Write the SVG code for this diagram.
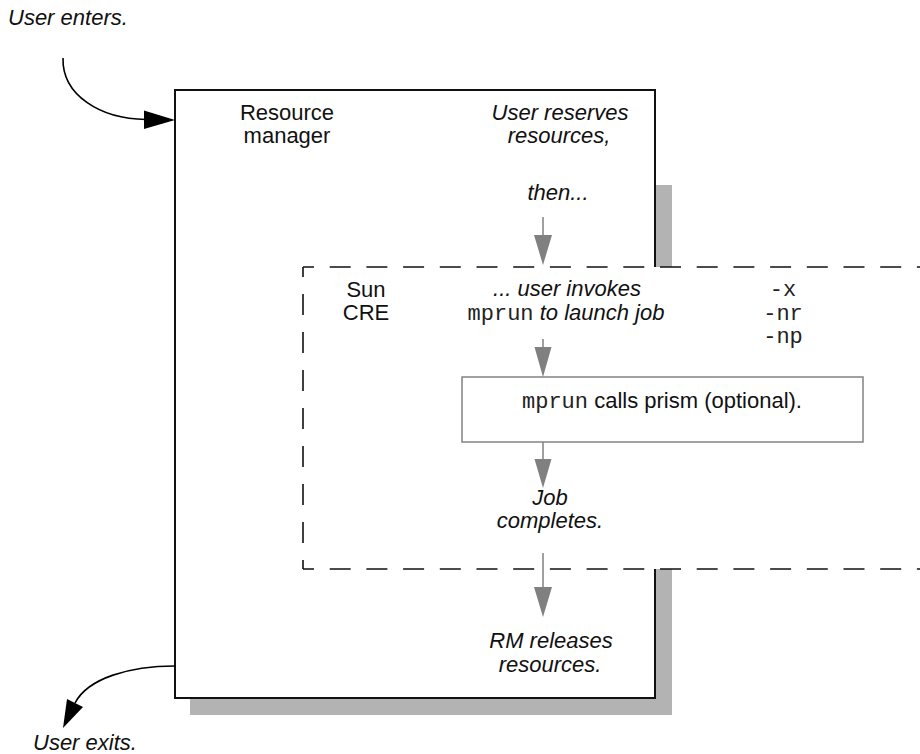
<svg xmlns="http://www.w3.org/2000/svg" width="920" height="754" viewBox="0 0 920 754">
<style>
  .t { font-family: "Liberation Sans", Arial, sans-serif; font-size: 22px; fill: #111; }
  .i { font-style: italic; }
  .m { font-family: "Liberation Mono", "Courier New", monospace; font-size: 22px; fill: #222; }
  .c { text-anchor: middle; }
  .dash { fill: none; stroke: #111; stroke-width: 1.6; }
  .gl { stroke: #808080; stroke-width: 1.5; fill: none; }
  .gh { fill: #808080; stroke: none; }
  .bl { stroke: #000; stroke-width: 1.6; fill: none; }
</style>
<rect width="920" height="754" fill="#fff"/>

<g id="resource-manager">
  <rect x="190" y="185" width="482" height="530" fill="#b3b3b3"/>
  <rect x="175" y="90" width="480" height="608" fill="#fff" stroke="#111" stroke-width="2"/>
  <text class="t c" x="287" y="120">Resource</text>
  <text class="t c" x="287" y="143">manager</text>
  <text class="t i c" x="560" y="120">User reserves</text>
  <text class="t i c" x="559" y="143">resources,</text>
  <text class="t i c" x="558" y="200">then...</text>
  <text class="t i c" x="551" y="648">RM releases</text>
  <text class="t i c" x="550" y="672">resources.</text>
</g>

<g id="sun-cre">
  <rect x="303" y="267" width="640" height="302" fill="#fff"/>
  <path class="dash" d="M303,267 H920" stroke-dasharray="21 15.7" stroke-dashoffset="10"/>
  <path class="dash" d="M303,569 H920" stroke-dasharray="21 15.7" stroke-dashoffset="10"/>
  <path class="dash" d="M303,569 V267" stroke-dasharray="21 17" stroke-dashoffset="12"/>
  <text class="t c" x="366" y="297">Sun</text>
  <text class="t c" x="366" y="320">CRE</text>
  <text class="t i c" x="567" y="296">... user invokes</text>
  <text class="t c" x="566" y="320"><tspan class="m">mprun</tspan><tspan class="i"> to launch job</tspan></text>
  <text class="m c" x="783" y="296">-x</text>
  <text class="m c" x="783" y="320">-nr</text>
  <text class="m c" x="783" y="343">-np</text>
  <text class="t i c" x="550" y="505">Job</text>
  <text class="t i c" x="550" y="528">completes.</text>
</g>

<g id="prism">
  <rect x="462" y="377" width="401" height="65" fill="#fff" stroke="#8a8a8a" stroke-width="1.6"/>
  <text class="t c" x="662" y="408"><tspan class="m">mprun</tspan> calls prism (optional).</text>
</g>

<g id="user-enters">
  <text class="t i" x="8" y="25">User enters.</text>
</g>
<g id="user-exits">
  <text class="t i" x="33" y="750">User exits.</text>
</g>

<g id="connectors">
  <path class="bl" d="M63,58 C62,95 100,119 146,119.5"/>
  <polygon points="175,120 144,110.5 144,129" fill="#000"/>
  <path class="bl" d="M175,666 C130,666 88,678 75,703"/>
  <polygon points="63,728 67,699 83,707" fill="#000"/>

  <line class="gl" x1="543" y1="217" x2="543" y2="240"/>
  <polygon class="gh" points="534,235 552,235 543,265"/>
  <line class="gl" x1="543" y1="339" x2="543" y2="350"/>
  <polygon class="gh" points="534.5,347 551.5,347 543,377"/>
  <line class="gl" x1="543" y1="442" x2="543" y2="462"/>
  <polygon class="gh" points="534.5,459 551.5,459 543,488"/>
  <line class="gl" x1="543" y1="553" x2="543" y2="590"/>
  <polygon class="gh" points="534,587 552,587 543,617"/>
</g>
</svg>
